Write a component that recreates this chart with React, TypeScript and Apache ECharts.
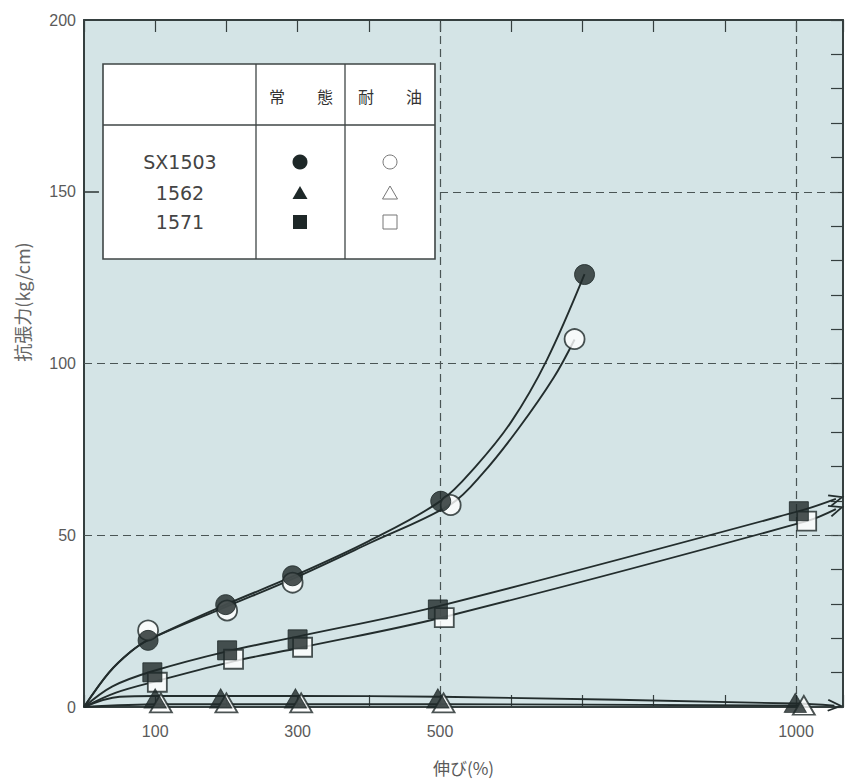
import React, { useEffect, useRef } from "react";
import * as echarts from "echarts";

// ---- measured markers (elongation %, tensile strength kg/cm) ----
const sx1503Normal = [[90, 19.4], [199, 29.8], [293, 38.2], [501, 59.9], [703, 125.9]];
const sx1503Oil = [[90, 22.3], [201, 28.1], [293, 36.2], [515, 58.8], [689, 107.1]];
const s1562Normal = [[100, 2.5], [192, 2.5], [297, 2.5], [497, 2.5], [999, 1.2]];
const s1562Oil = [[108, 1.2], [200, 1.2], [305, 1.2], [505, 1.2], [1011, 0.5]];
const s1571Normal = [[96, 10.1], [201, 16.5], [300, 19.7], [497, 28.4], [1004, 57]];
const s1571Oil = [[103, 7.2], [210, 13.9], [307, 17.4], [506, 26], [1015, 54.1]];

// ---- hand-drawn fitted curves ----
const sx1503NormalCurve = [[0, 0], [35, 10], [65, 16], [90, 19.5], [199, 29.8], [293, 38], [400, 48.3], [501, 60], [550, 70], [600, 83], [650, 101], [703, 126]];
const sx1503OilCurve = [[0, 0], [35, 10], [65, 16], [90, 19.5], [201, 29.3], [293, 37.3], [400, 47.6], [515, 59], [560, 68], [610, 81], [660, 96], [689, 107]];
const s1562NormalCurve = [[0, 0], [50, 3], [100, 3.2], [300, 3.2], [500, 3], [999, 1]];
const s1562OilCurve = [[0, 0], [108, 0.8], [305, 0.8], [505, 0.8], [1011, 0.4]];
const s1571NormalCurve = [[0, 0], [40, 6], [96, 10.4], [201, 16.2], [300, 20.5], [497, 29.3], [1004, 57]];
const s1571OilCurve = [[0, 0], [45, 4.2], [103, 7.6], [210, 13.3], [307, 17.4], [506, 26.2], [1015, 54.1]];
// curve continuation (arrow) end points
const s1571NormalArrow = [1056, 60.6];
const s1571OilArrow = [1056, 57.6];
const s1562NormalArrow = [1054, 0.4];

const xLabelValues = [100, 300, 500, 1000];
const vGridValues = [500, 1000];
const hGridValues = [50, 100];
const hGridPartial = 150;

const legendNames = ["SX1503", "1562", "1571"];
const headerNormal = ["常", "態"];
const headerOil = ["耐", "油"];
const yName = "抗張力(kg/cm)";
const xName = "伸び(%)";

const DARK = "#1e2828";
const LINE = "#232d2d";
const AXIS = "#353f3f";
const TXT = "#5a5a5a";
const NUMFONT = "'Liberation Sans', Arial, sans-serif";
const CJK = "'Noto Sans CJK JP', sans-serif";

const ARROW = "path://M0,0 L12,5 L0,10";

function curve(points: number[][], arrow: number[] | null, rot: number) {
  const d: any[] = [...points];
  if (arrow) {
    d.push({
      value: arrow,
      symbol: ARROW,
      symbolSize: [13, 11],
      symbolRotate: rot,
      itemStyle: { color: "none", borderColor: LINE, borderWidth: 1.8 },
    });
  }
  return d;
}

export default function App() {
  const ref = useRef<HTMLDivElement>(null);
  useEffect(() => {
    document.body.style.margin = "0";
    const chart = echarts.init(ref.current!, null, { renderer: "svg" });

    const lineSeries = (name: string, data: any[], extra: any = {}) => ({
      name,
      type: "line",
      data,
      smooth: 0.35,
      symbol: "none",
      showSymbol: true,
      clip: false,
      z: 2,
      silent: true,
      lineStyle: { color: LINE, width: 1.9 },
      itemStyle: { color: LINE },
      ...extra,
    });

    const scatter = (name: string, data: number[][], symbol: string, size: any, filled: boolean) => ({
      name,
      type: "scatter",
      data,
      symbol,
      symbolSize: size,
      z: filled ? 4 : 3,
      silent: true,
      itemStyle: filled
        ? { color: DARK, borderColor: DARK, borderWidth: 1 }
        : { color: "#ffffff", borderColor: DARK, borderWidth: 1.8 },
    });

    const dash = { type: [8, 5], color: "#4a5555", width: 1.2 };

    const markLine = {
      silent: true,
      symbol: "none",
      z: 1,
      label: { show: false },
      lineStyle: dash,
      emphasis: { disabled: true },
      data: [
        ...vGridValues.map((v) => ({ xAxis: v })),
        ...hGridValues.map((v) => ({ yAxis: v })),
        [{ coord: [vGridValues[0], hGridPartial] }, { coord: [1066, hGridPartial] }],
        [
          { coord: [0, hGridPartial], lineStyle: { type: "solid", width: 1.6, color: AXIS } },
          { coord: [21, hGridPartial] },
        ],
      ],
    };

    const g = 100;
    const hdr = (t: string, x: number) => ({
      type: "text", z: g, x, y: 96,
      style: { text: t, fontSize: 16, fontFamily: CJK, fill: "#333", align: "center", verticalAlign: "middle" },
    });
    const legendGraphic: any[] = [
      { type: "rect", z: g, shape: { x: 103, y: 64, width: 332, height: 195 }, style: { fill: "#ffffff", stroke: "#3f4646", lineWidth: 1.6 } },
      { type: "line", z: g, shape: { x1: 103, y1: 125, x2: 435, y2: 125 }, style: { stroke: "#3f4646", lineWidth: 1.3 } },
      { type: "line", z: g, shape: { x1: 256, y1: 64, x2: 256, y2: 259 }, style: { stroke: "#3f4646", lineWidth: 1.3 } },
      { type: "line", z: g, shape: { x1: 345, y1: 64, x2: 345, y2: 259 }, style: { stroke: "#3f4646", lineWidth: 1.3 } },
      hdr(headerNormal[0], 277),
      hdr(headerNormal[1], 325),
      hdr(headerOil[0], 366),
      hdr(headerOil[1], 414),
      ...legendNames.map((n, i) => ({
        type: "text",
        z: g,
        x: 180,
        y: [162, 193, 222][i],
        style: { text: n, fontSize: 19, fontFamily: "'DejaVu Sans', sans-serif", fill: "#444", align: "center", verticalAlign: "middle" },
      })),
      { type: "circle", z: g, shape: { cx: 300, cy: 162, r: 7.5 }, style: { fill: DARK } },
      { type: "polygon", z: g, shape: { points: [[300, 186], [307.5, 199], [292.5, 199]] }, style: { fill: DARK } },
      { type: "rect", z: g, shape: { x: 293, y: 215, width: 14, height: 14 }, style: { fill: DARK } },
      { type: "circle", z: g, shape: { cx: 390, cy: 162, r: 7 }, style: { fill: "#fff", stroke: "#777", lineWidth: 1 } },
      { type: "polygon", z: g, shape: { points: [[390, 186], [397.5, 199], [382.5, 199]] }, style: { fill: "#fff", stroke: "#777", lineWidth: 1 } },
      { type: "rect", z: g, shape: { x: 383, y: 215, width: 14, height: 14 }, style: { fill: "#fff", stroke: "#777", lineWidth: 1 } },
      {
        type: "text",
        z: g,
        x: 22,
        y: 302,
        rotation: Math.PI / 2,
        style: { text: yName, fontSize: 18, fontFamily: CJK, fill: "#666", align: "center", verticalAlign: "middle" },
      },
    ];

    const axisLine = { show: true, onZero: false, lineStyle: { color: AXIS, width: 2 } };

    chart.setOption({
      animation: false,
      backgroundColor: "#ffffff",
      grid: { left: 84, right: 9, top: 20, bottom: 71, show: true, backgroundColor: "#d4e4e6", borderWidth: 0 },
      xAxis: [
        {
          type: "value",
          position: "bottom",
          min: 0,
          max: 1066,
          interval: 100,
          axisLine,
          axisTick: { show: true, inside: true, length: 12, lineStyle: { color: AXIS, width: 1.2 } },
          axisLabel: {
            formatter: (v: number) => (xLabelValues.includes(v) ? String(v) : ""),
            color: TXT,
            fontSize: 16,
            fontFamily: NUMFONT,
            margin: 16,
          },
          splitLine: { show: false },
          name: xName,
          nameLocation: "middle",
          nameGap: 52,
          nameTextStyle: { color: TXT, fontSize: 17, fontFamily: CJK },
        },
        {
          type: "value",
          position: "top",
          min: 0,
          max: 1066,
          interval: 100,
          axisLine,
          axisTick: { show: true, inside: true, length: 12, lineStyle: { color: AXIS, width: 1.2 } },
          axisLabel: { show: false },
          splitLine: { show: false },
        },
      ],
      yAxis: [
        {
          type: "value",
          position: "left",
          min: 0,
          max: 200,
          interval: 50,
          axisLine,
          axisTick: { show: false },
          axisLabel: { color: TXT, fontSize: 16, fontFamily: NUMFONT, margin: 8 },
          splitLine: { show: false },
        },
        {
          type: "value",
          position: "right",
          min: 0,
          max: 200,
          interval: 10,
          axisLine,
          axisTick: { show: true, inside: true, length: 12, lineStyle: { color: AXIS, width: 1.2 } },
          axisLabel: { show: false },
          splitLine: { show: false },
        },
      ],
      series: [
        lineSeries("SX1503 耐油 curve", curve(sx1503OilCurve, null, 0), { markLine }),
        lineSeries("SX1503 常態 curve", curve(sx1503NormalCurve, null, 0)),
        lineSeries("1562 耐油 curve", curve(s1562OilCurve, null, 0)),
        lineSeries("1562 常態 curve", curve(s1562NormalCurve, s1562NormalArrow, -3)),
        lineSeries("1571 耐油 curve", curve(s1571OilCurve, s1571OilArrow, 18)),
        lineSeries("1571 常態 curve", curve(s1571NormalCurve, s1571NormalArrow, 16)),
        scatter("SX1503 耐油", sx1503Oil, "circle", 20, false),
        scatter("1562 耐油", s1562Oil, "triangle", [22, 19], false),
        scatter("1571 耐油", s1571Oil, "rect", 19, false),
        scatter("SX1503 常態", sx1503Normal, "circle", 20, true),
        scatter("1562 常態", s1562Normal, "triangle", [22, 19], true),
        scatter("1571 常態", s1571Normal, "rect", 19, true),
      ],
      graphic: legendGraphic,
    });
    return () => chart.dispose();
  }, []);
  return <div ref={ref} style={{ width: 852, height: 781 }} />;
}
